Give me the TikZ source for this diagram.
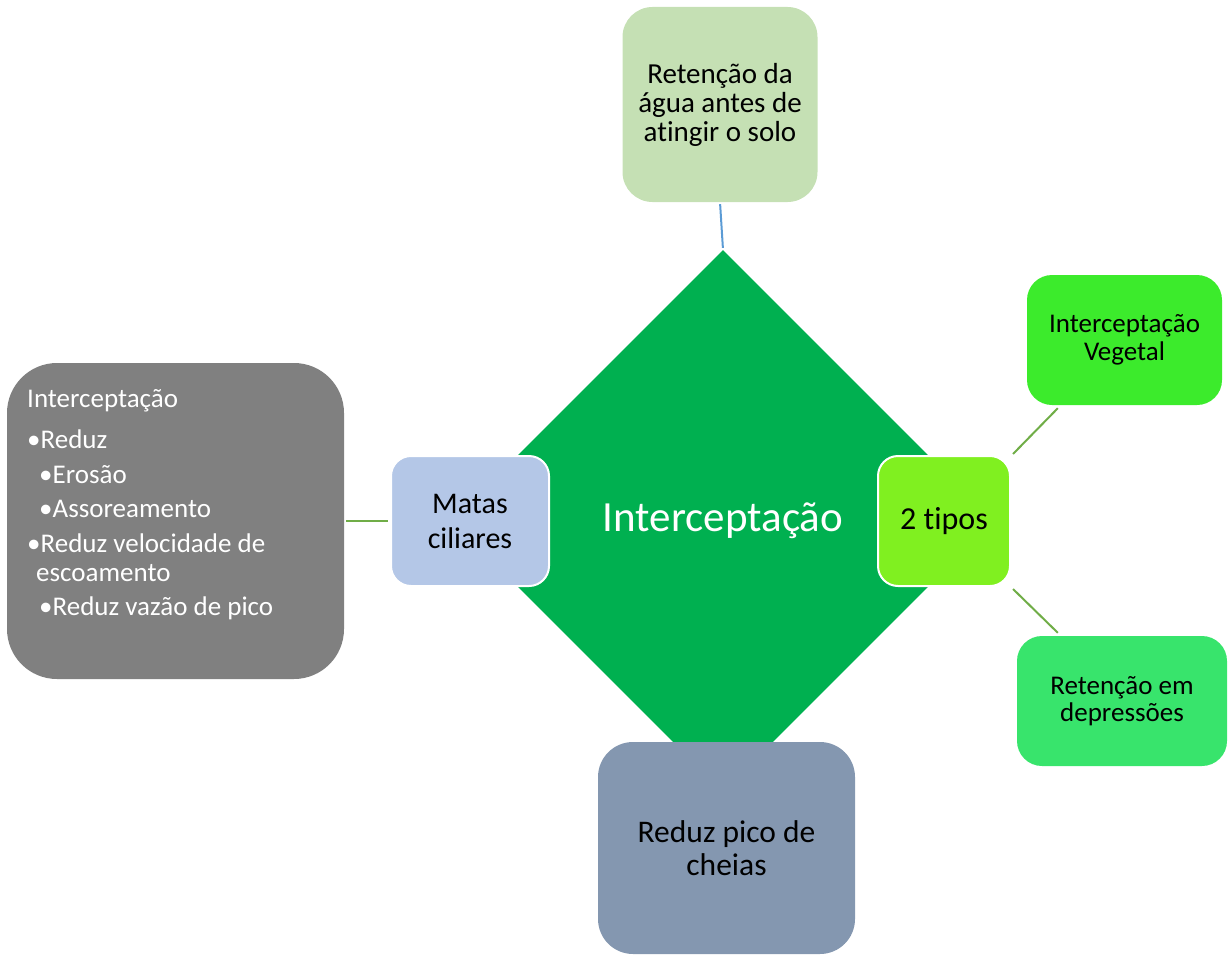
\documentclass[tikz,border=0pt]{standalone}
\usepackage{fontspec}
\setmainfont{Carlito}[Ligatures=CommonOff]
\usetikzlibrary{calc, positioning, shapes.geometric}
\definecolor{mainGreen}{HTML}{00B050}
\definecolor{lightGreen}{HTML}{C5E0B4}
\definecolor{paleBlue}{HTML}{B4C7E7}
\definecolor{limeGreen}{HTML}{80F020}
\definecolor{brightGreen}{HTML}{3CEB2C}
\definecolor{mintGreen}{HTML}{38E46C}
\definecolor{slateBlue}{HTML}{8497B0}
\definecolor{midGray}{HTML}{808080}
\definecolor{lineGreen}{HTML}{70AD47}
\definecolor{lineBlue}{HTML}{5B9BD5}
\tikzset{
  box/.style={rounded corners=#1, inner sep=0pt, align=center, text=black},
  box/.default=25pt,
  link/.style={line width=2pt, lineGreen, shorten <=2pt, shorten >=2pt},
}

\begin{document}
\begin{tikzpicture}[x=1pt, y=-1pt]
    \useasboundingbox (0,0) rectangle (1228,955);

    % Center
    \node[diamond, aspect=1, fill=mainGreen, minimum width=542pt, minimum height=542pt, inner sep=0pt,
          text=white, font=\fontsize{43}{50}\selectfont] (core) at (723,521) {Interceptação};

    % Boxes
    \node[box=30pt, fill=lightGreen, minimum width=195pt, minimum height=195pt,
          font=\fontsize{29}{29}\selectfont] (retain) at (720,104.5) {Retenção da\\água antes de\\atingir o solo};
    \node[box=20pt, fill=paleBlue, draw=white, line width=2pt, minimum width=158pt, minimum height=130pt,
          font=\fontsize{30}{35}\selectfont] (matas) at (470,521) {Matas\\ciliares};
    \node[box=20pt, fill=limeGreen, draw=white, line width=2pt, minimum width=132pt, minimum height=130pt,
          font=\fontsize{32}{35}\selectfont] (tipos) at (944,521) {2 tipos};
    \node[box=25pt, fill=brightGreen, minimum width=195pt, minimum height=130pt,
          font=\fontsize{27}{28}\selectfont] (vegetal) at (1124.5,340) {Interceptação\\Vegetal};
    \node[box=25pt, fill=mintGreen, minimum width=210pt, minimum height=130pt,
          font=\fontsize{27}{27}\selectfont] (hollow) at (1122,701) {Retenção em\\depressões};
    \node[box=35pt, fill=slateBlue, minimum width=257pt, minimum height=212pt,
          font=\fontsize{31.5}{33}\selectfont] (peak) at (726.5,848) {Reduz pico de\\cheias};
    \node[box=50pt, fill=midGray, minimum width=337pt, minimum height=316pt] (notes) at (175.5,521) {};
    \node[anchor=north west, align=left, text=white, inner sep=0pt,
          font=\fontsize{27}{29}\selectfont] (notesText) at (27,389) {%
        Interceptação\\[12pt]
        \textbullet Reduz\\[6pt]
        \hspace{12pt}\textbullet Erosão\\[5pt]
        \hspace{12pt}\textbullet Assoreamento\\[6pt]
        \textbullet Reduz velocidade de\\
        \hspace{9pt}escoamento\\[5pt]
        \hspace{12pt}\textbullet Reduz vazão de pico};

    % Connectors
    \draw[link, lineBlue] (retain.south) -- (core.north);
    \draw[link] (notes.east) -- (matas.west);
    \draw[link, shorten <=0pt, shorten >=0pt] ($(tipos.north east)+(2,-1)$) -- ($(vegetal.south west)+(31,3)$);
    \draw[link, shorten <=0pt, shorten >=0pt] ($(tipos.south east)+(2,2)$) -- ($(hollow.north west)+(41,-3)$);
\end{tikzpicture}
\end{document}
